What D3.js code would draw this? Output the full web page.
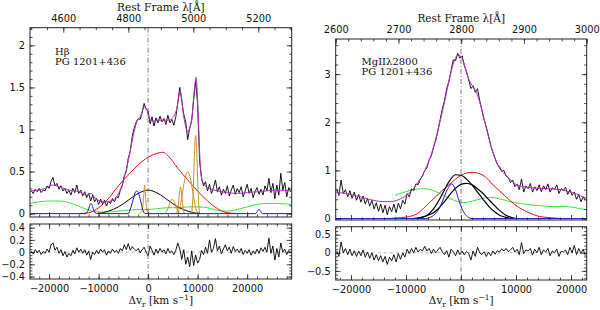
<!doctype html>
<meta charset="utf-8">
<style>
body { margin: 0; background: #fff; }
svg text { fill: #111; }
</style>
<body>
<div id="viz"></div>
<script src="https://cdn.jsdelivr.net/npm/d3@7"></script>
<script>
// ---- Hbeta panel (left) ----
// spectrum sampled every 400 km/s starting at -23600 km/s
var hbV0 = -23600, hbStep = 400;
var hbFlux = [0.27,0.24,0.29,0.26,0.30,0.25,0.28,0.27,0.33,0.30,0.38,0.43,0.33,0.36,0.29,0.33,0.27,0.30,0.24,0.28,
  0.22,0.30,0.25,0.34,0.24,0.28,0.21,0.26,0.19,0.24,0.15,0.22,0.14,0.18,0.11,0.17,0.12,0.16,0.09,0.15,
  0.12,0.18,0.14,0.20,0.19,0.28,0.33,0.45,0.50,0.66,0.74,0.92,1.02,1.09,1.13,1.12,1.20,1.31,1.24,1.22,
  1.07,1.15,1.04,1.14,1.08,1.16,1.09,1.13,1.06,1.17,1.08,1.12,1.05,1.15,1.32,1.50,1.34,1.18,1.09,0.88,
  1.02,1.10,1.35,1.58,1.30,0.62,0.42,0.33,0.38,0.27,0.35,0.24,0.31,0.40,0.26,0.32,0.22,0.29,0.24,0.33,
  0.21,0.28,0.34,0.23,0.30,0.25,0.32,0.20,0.27,0.35,0.24,0.30,0.19,0.26,0.31,0.23,0.29,0.22,0.33,0.27,
  0.42,0.25,0.36,0.18,0.34,0.22,0.48,0.28,0.37,0.20,0.31,0.26];
var hbResid = [0.02,-0.03,0.04,-0.01,0.03,-0.04,0.01,-0.02,0.05,0.00,0.12,0.15,0.03,0.08,-0.02,0.04,-0.06,0.01,-0.08,-0.02,
  -0.06,0.03,-0.03,0.07,0.00,0.05,-0.02,0.04,-0.05,0.02,-0.12,0.00,-0.04,0.03,-0.03,0.05,0.00,0.04,-0.05,0.02,
  -0.02,0.05,0.00,0.03,-0.02,0.06,0.02,0.12,0.04,0.14,0.03,0.09,0.05,0.02,0.06,-0.01,0.04,0.08,0.00,-0.06,
  0.10,0.03,-0.05,0.05,-0.02,0.06,0.00,0.04,-0.03,0.06,-0.01,0.02,-0.04,0.03,0.15,0.05,-0.12,0.04,-0.20,-0.08,
  -0.24,0.02,-0.22,-0.05,-0.18,-0.12,0.03,-0.04,0.08,-0.02,0.20,0.00,0.06,0.22,0.02,0.10,-0.03,0.05,0.12,0.02,
  0.08,-0.02,0.09,0.01,0.05,-0.01,0.06,-0.04,0.03,-0.02,0.04,-0.05,0.02,-0.03,0.05,-0.02,0.07,0.01,0.08,0.00,
  0.23,-0.02,0.10,-0.13,0.06,-0.08,0.15,0.00,0.05,-0.04,0.03,0.00];
var hbModel = [[-24000,0.27],[-22000,0.28],[-20500,0.31],[-19300,0.34],[-18000,0.32],[-16000,0.28],[-14000,0.26],
  [-12500,0.22],[-11500,0.24],[-10500,0.17],[-9000,0.14],[-7500,0.15],[-6500,0.19],[-5500,0.30],[-4500,0.50],
  [-3500,0.78],[-2800,0.98],[-2200,1.10],[-1500,1.16],[-800,1.27],[-300,1.24],[300,1.12],[1000,1.10],[2000,1.11],
  [3000,1.11],[4000,1.11],[5000,1.14],[5800,1.25],[6500,1.45],[7200,1.15],[8000,0.98],[8800,1.12],[9300,1.45],
  [9700,1.62],[10100,1.20],[10500,0.62],[11000,0.38],[12000,0.31],[14000,0.27],[16000,0.25],[18000,0.24],
  [20000,0.25],[22000,0.26],[24000,0.27],[26000,0.28],[29000,0.27]];
var hbRed = [[-14000,0],[-12000,0.01],[-10000,0.07],[-8000,0.18],[-6000,0.33],[-4000,0.46],[-2000,0.58],[0,0.67],
  [2000,0.72],[3000,0.73],[4000,0.69],[6000,0.54],[8000,0.40],[10000,0.27],[12000,0.15],[14000,0.06],[16000,0.01],[18000,0]];
var hbBlack = [[-10000,0],[-8000,0.03],[-6000,0.08],[-4000,0.16],[-2000,0.24],[0,0.28],[2000,0.24],[4000,0.16],
  [6000,0.08],[8000,0.03],[10000,0]];
var hbGreen = [[-24000,0.12],[-22000,0.14],[-20000,0.15],[-18000,0.15],[-16000,0.13],[-14000,0.09],[-12000,0.04],
  [-10000,0.02],[-8000,0.02],[-6000,0.03],[-4000,0.04],[-2000,0.05],[0,0.05],[2000,0.06],[4000,0.07],[6000,0.07],
  [8000,0.08],[10000,0.08],[12000,0.07],[14000,0.04],[16000,0.03],[18000,0.05],[20000,0.08],[22000,0.11],
  [24000,0.12],[26000,0.12],[29000,0.11]];
var hbBlue = [[-24000,0],[-12600,0],[-12100,0.04],[-11700,0.11],[-11500,0.12],[-11300,0.10],[-10900,0.03],[-10400,0],
  [-4000,0],[-3500,0.07],[-3000,0.17],[-2600,0.25],[-2300,0.27],[-2000,0.25],[-1500,0.15],[-1100,0.05],[-600,0],
  [21700,0],[22100,0.03],[22400,0.05],[22700,0.03],[23100,0],[29000,0]];
var hbNarrow = [[-1700,0],[-1300,0.02],[-1100,0.07],[-900,0.20],[-700,0.34],[-500,0.20],[-300,0.07],[-100,0.02],[300,0]];
var heI4922 = [[3400,0],[4000,0.06],[4500,0.14],[4900,0.17],[5300,0.14],[5800,0.06],[6400,0]];
var oiii4959 = [[5800,0],[6100,0.10],[6350,0.25],[6550,0.32],[6750,0.25],[7000,0.10],[7300,0]];
var oiiiWing = [[6000,0],[6500,0.10],[7000,0.27],[7500,0.43],[8000,0.50],[8500,0.43],[9000,0.27],[9500,0.10],[10000,0]];
var oiii5007 = [[8800,0],[9100,0.25],[9350,0.70],[9600,0.93],[9850,0.70],[10100,0.25],[10400,0]];

// ---- MgII panel (right) ----
var mgV0 = -22600, mgStep = 400;
var mgFlux = [0.62,0.48,0.80,0.52,0.60,0.45,0.58,0.42,0.55,0.38,0.50,0.34,0.47,0.30,0.42,0.26,0.38,0.20,0.33,0.15,
  0.30,0.12,0.28,0.08,0.25,0.14,0.30,0.12,0.32,0.20,0.38,0.30,0.52,0.45,0.62,0.58,0.72,0.70,0.82,0.88,
  1.00,1.05,1.22,1.30,1.48,1.62,1.82,2.05,2.28,2.45,2.70,2.85,3.08,3.30,3.28,3.43,3.33,3.38,3.18,3.05,
  2.88,2.70,2.76,2.62,2.70,2.45,2.25,2.05,1.90,1.72,1.52,1.38,1.25,1.12,1.08,0.98,1.00,0.88,0.85,0.75,
  0.80,0.66,0.72,0.60,0.82,0.55,0.68,0.62,0.73,0.55,0.66,0.58,0.70,0.56,0.68,0.60,0.72,0.55,0.64,0.60,
  0.70,0.52,0.62,0.58,0.65,0.50,0.60,0.48,0.55,0.40,0.50,0.35,0.45,0.38];
var mgResid = [0.05,-0.10,0.30,0.00,0.12,-0.05,0.10,-0.08,0.06,-0.10,0.05,-0.08,0.08,-0.12,0.02,-0.15,0.00,-0.20,-0.05,-0.22,
  -0.08,-0.25,-0.10,-0.32,-0.12,-0.22,-0.05,-0.25,-0.02,-0.18,0.00,-0.12,0.10,-0.02,0.12,0.00,0.15,0.02,0.10,0.05,
  0.18,0.05,0.12,-0.02,0.10,0.00,0.08,0.15,0.02,-0.05,0.06,-0.12,0.10,0.03,-0.08,0.08,-0.05,0.05,-0.06,0.04,
  -0.02,-0.20,0.05,-0.10,0.15,0.00,-0.05,0.03,-0.10,0.02,-0.08,0.05,-0.04,0.06,0.02,0.10,0.05,0.12,0.03,0.08,
  0.15,0.02,0.10,-0.05,0.28,-0.02,0.08,0.05,0.12,-0.06,0.10,0.00,0.15,-0.05,0.08,0.02,0.12,-0.08,0.05,0.00,
  0.10,-0.10,0.04,0.02,0.08,-0.05,0.15,0.00,0.20,-0.05,0.12,-0.02,0.10,-0.08];
var mgModel = [[-22800,0.55],[-21000,0.52],[-19000,0.47],[-17000,0.41],[-15000,0.36],[-13000,0.35],[-11000,0.41],
  [-9500,0.52],[-8000,0.72],[-7000,0.90],[-6000,1.15],[-5000,1.48],[-4000,1.93],[-3000,2.42],[-2000,2.95],
  [-1200,3.28],[-500,3.40],[0,3.37],[600,3.20],[1200,2.96],[2000,2.76],[2800,2.62],[3500,2.38],[4300,2.02],
  [5000,1.70],[6000,1.30],[7000,1.05],[8000,0.92],[9000,0.80],[10000,0.71],[12000,0.65],[14000,0.63],
  [16000,0.62],[18000,0.60],[20000,0.55],[22000,0.46],[22850,0.42]];
var mgRed = [[-13000,0],[-12000,0.01],[-10000,0.03],[-8000,0.10],[-6000,0.30],[-4000,0.52],[-2000,0.72],[0,0.90],
  [2000,0.96],[4000,0.90],[6000,0.68],[8000,0.47],[10000,0.27],[12000,0.14],[14000,0.05],[16000,0.02],[18000,0]];
var mgBlack1 = [[-8000,0],[-7000,0.03],[-6000,0.08],[-5000,0.20],[-4000,0.38],[-3000,0.60],[-2000,0.80],[-1000,0.91],
  [0,0.90],[1000,0.82],[2000,0.70],[3000,0.55],[4000,0.40],[5000,0.26],[6000,0.15],[7000,0.07],[8000,0.03],[9000,0]];
var mgBlack2 = [[-9000,0],[-8000,0.01],[-7000,0.03],[-6000,0.07],[-5000,0.12],[-4000,0.22],[-3000,0.35],[-2000,0.50],
  [-1000,0.63],[0,0.71],[1000,0.73],[2000,0.70],[3000,0.62],[4000,0.52],[5000,0.40],[6000,0.28],[7000,0.17],
  [8000,0.08],[9000,0.03],[10000,0]];
var mgGreen = [[-12000,0.48],[-10000,0.56],[-8000,0.61],[-6800,0.62],[-5000,0.58],[-3000,0.47],[-1000,0.37],[500,0.33],
  [2000,0.36],[4000,0.42],[5300,0.44],[7000,0.41],[9000,0.35],[11000,0.31],[13000,0.28],[15000,0.26],[17000,0.25],
  [19000,0.25],[21000,0.22],[22850,0.18]];
var mgBlue = [[-22800,0],[-6500,0],[-5500,0.03],[-4500,0.12],[-3500,0.32],[-2500,0.60],[-1700,0.72],[-1000,0.60],
  [-300,0.35],[400,0.15],[1200,0.04],[2000,0],[22850,0]];

var svg = d3.select("#viz").append("svg").attr("width", 600).attr("height", 310);
var sans = "DejaVu Sans, sans-serif", serif = "DejaVu Serif, serif";

function addAxis(g, gen, scale, step, size, tr, fmt, pad) {
  var d = scale.domain(), lo = Math.min(d[0], d[1]), hi = Math.max(d[0], d[1]);
  var vals = d3.range(Math.ceil(lo / step - 1e-6), Math.floor(hi / step + 1e-6) + 1)
    .map(function(k) { return +(k * step).toFixed(4); });
  var a = gen(scale).tickValues(vals).tickSize(size).tickPadding(pad || 5)
    .tickFormat(fmt || function() { return ""; });
  var s = g.append("g").attr("transform", tr).call(a);
  s.select(".domain").remove();
  s.selectAll("line").attr("stroke", "#222").attr("stroke-width", 0.8);
  s.selectAll("text").attr("font-family", sans).attr("font-size", 9.8).attr("fill", "#000");
}

function panel(p) {
  var g = svg.append("g");
  var x = d3.scaleLinear().domain(p.vDom).range([p.x0, p.x1]);
  var xl = d3.scaleLinear().domain(p.lDom).range([p.x0, p.x1]);
  var y = d3.scaleLinear().domain(p.fDom).range([p.yb, p.yt]);
  var yr = d3.scaleLinear().domain(p.rDom).range([p.rb, p.rt]);
  var id = "c" + p.name;
  var defs = g.append("defs");
  defs.append("clipPath").attr("id", id + "t").append("rect")
    .attr("x", p.x0).attr("y", p.yt).attr("width", p.x1 - p.x0).attr("height", p.yb - p.yt);
  defs.append("clipPath").attr("id", id + "r").append("rect")
    .attr("x", p.x0).attr("y", p.rt).attr("width", p.x1 - p.x0).attr("height", p.rb - p.rt);

  var top = g.append("g").attr("clip-path", "url(#" + id + "t)");
  var bot = g.append("g").attr("clip-path", "url(#" + id + "r)");
  var smooth = d3.line().x(function(d) { return x(d[0]); }).y(function(d) { return y(d[1]); }).curve(d3.curveMonotoneX);
  var vel = function(i) { return p.v0 + i * p.step; };
  var raw = d3.line().x(function(d, i) { return x(vel(i)); }).y(function(d) { return y(d); });
  var rawR = d3.line().x(function(d, i) { return x(vel(i)); }).y(function(d) { return yr(d); });

  // dash-dot line at zero velocity
  [[p.yt, p.yb], [p.rt, p.rb]].forEach(function(yy) {
    g.append("line").attr("x1", x(0)).attr("x2", x(0)).attr("y1", yy[0]).attr("y2", yy[1])
      .attr("stroke", "#666").attr("stroke-width", 0.8).attr("stroke-dasharray", "5,2,1,2");
  });
  bot.append("line").attr("x1", p.x0).attr("x2", p.x1).attr("y1", yr(0)).attr("y2", yr(0))
    .attr("stroke", "#888").attr("stroke-width", 0.6).attr("stroke-dasharray", "3,3");

  p.comps.forEach(function(c) {
    top.append("path").datum(c[0]).attr("d", smooth).attr("fill", "none")
      .attr("stroke", c[1]).attr("stroke-width", c[2] || 1);
  });
  top.append("path").datum(p.flux).attr("d", raw).attr("fill", "none").attr("stroke", "#000").attr("stroke-width", 0.9);
  top.append("path").datum(p.model).attr("d", smooth).attr("fill", "none").attr("stroke", "#b030c0").attr("stroke-width", 1);
  bot.append("path").datum(p.resid).attr("d", rawR).attr("fill", "none").attr("stroke", "#000").attr("stroke-width", 0.9);

  // frames
  [[p.yt, p.yb], [p.rt, p.rb]].forEach(function(yy) {
    g.append("rect").attr("x", p.x0).attr("y", yy[0]).attr("width", p.x1 - p.x0).attr("height", yy[1] - yy[0])
      .attr("fill", "none").attr("stroke", "#222").attr("stroke-width", 1);
  });

  var fmtD = d3.format("d"), fmtG = d3.format("~g");
  // wavelength axis on top
  addAxis(g, d3.axisTop, xl, p.lTick[1], -2.5, "translate(0," + p.yt + ")");
  addAxis(g, d3.axisTop, xl, p.lTick[0], -5, "translate(0," + p.yt + ")", fmtD, 6);
  // velocity ticks
  [[p.yb, d3.axisBottom], [p.rt, d3.axisTop], [p.rb, d3.axisBottom]].forEach(function(a, k) {
    addAxis(g, a[1], x, p.vTick[1], -2.5, "translate(0," + a[0] + ")");
    addAxis(g, a[1], x, p.vTick[0], -5, "translate(0," + a[0] + ")", k === 2 ? fmtD : null, 6);
  });
  // flux and residual axes
  [[y, p.fTick], [yr, p.rTick]].forEach(function(a) {
    addAxis(g, d3.axisLeft, a[0], a[1][1], -2.5, "translate(" + p.x0 + ",0)");
    addAxis(g, d3.axisLeft, a[0], a[1][0], -5, "translate(" + p.x0 + ",0)", fmtG, 5);
    addAxis(g, d3.axisRight, a[0], a[1][1], -2.5, "translate(" + p.x1 + ",0)");
    addAxis(g, d3.axisRight, a[0], a[1][0], -5, "translate(" + p.x1 + ",0)");
  });

  var cx = (p.x0 + p.x1) / 2;
  g.append("text").attr("x", cx).attr("y", p.yt - 17).attr("text-anchor", "middle")
    .attr("font-family", serif).attr("font-size", 10.5).text("Rest Frame λ[Å]");
  var xt = g.append("text").attr("x", cx).attr("y", 304).attr("text-anchor", "middle")
    .attr("font-family", serif).attr("font-size", 10.5);
  xt.append("tspan").text("Δv");
  xt.append("tspan").attr("font-size", 7.5).attr("dy", 3).text("r");
  xt.append("tspan").attr("dy", -3).text(" [km s");
  xt.append("tspan").attr("font-size", 7.5).attr("dy", -4).text("−1");
  xt.append("tspan").attr("dy", 4).text("]");
  p.notes.forEach(function(t, k) {
    g.append("text").attr("x", p.noteX).attr("y", p.noteY + k * 10).attr("font-family", serif)
      .attr("font-size", 10).text(t);
  });
}

panel({
  name: "hb", x0: 30, x1: 291.7, yt: 27.7, yb: 217, rt: 224, rb: 279,
  vDom: [-23850, 29000], lDom: [4497.5, 5302.8], fDom: [-0.04, 2.21], rDom: [-0.44, 0.46],
  lTick: [200, 50], vTick: [10000, 2000], fTick: [0.5, 0.1], rTick: [0.2, 0.05],
  v0: hbV0, step: hbStep, flux: hbFlux, resid: hbResid, model: hbModel,
  comps: [[hbGreen, "#3ee03e"], [hbRed, "#e81010"], [hbBlack, "#000"], [hbNarrow, "#c89020"], [heI4922, "#c89020"],
    [oiiiWing, "#c89020"], [oiii4959, "#c89020"], [oiii5007, "#c89020"], [hbBlue, "#1818d8"]],
  notes: ["Hβ", "PG 1201+436"], noteX: 55, noteY: 55
});
panel({
  name: "mg", x0: 335.7, x1: 586.7, yt: 39, yb: 220, rt: 226.7, rb: 280,
  vDom: [-22780, 22850], lDom: [2600, 3000], fDom: [-0.03, 3.73], rDom: [-0.75, 0.72],
  lTick: [100, 20], vTick: [10000, 2000], fTick: [1, 0.2], rTick: [0.5, 0.1],
  v0: mgV0, step: mgStep, flux: mgFlux, resid: mgResid, model: mgModel,
  comps: [[mgGreen, "#3ee03e"], [mgRed, "#e81010"], [mgBlack1, "#000", 1.2], [mgBlack2, "#000", 1.2], [mgBlue, "#1818d8"]],
  notes: ["MgIIλ2800", "PG 1201+436"], noteX: 361.5, noteY: 65
});
</script>
</body>
